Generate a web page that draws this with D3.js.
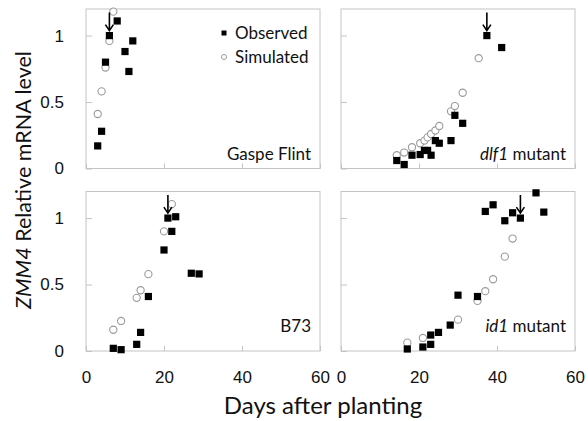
<!DOCTYPE html>
<html>
<head>
<meta charset="utf-8">
<script src="https://cdn.jsdelivr.net/npm/d3@7"></script>
<style>
  body { margin: 0; background: #fff; }
  svg { font-family: Lato, "Open Sans", sans-serif; }
</style>
</head>
<body>
<div id="chart"></div>
<script>
// values (days after planting, relative mRNA level)
const gaspeObsDays = [3, 4, 5, 6, 8, 10, 11, 12];
const gaspeObsLevel = [0.17, 0.28, 0.80, 1.0, 1.11, 0.88, 0.73, 0.96];
const gaspeSimDays = [3, 4, 5, 6, 7];
const gaspeSimLevel = [0.41, 0.58, 0.76, 0.96, 1.18];

const dlf1ObsDays = [14.3, 16.2, 18.2, 20.3, 21.4, 22.2, 23.1, 24.2, 25.2, 28.2, 29.2, 31.2, 37.4, 41.2];
const dlf1ObsLevel = [0.06, 0.03, 0.10, 0.105, 0.136, 0.136, 0.10, 0.21, 0.19, 0.21, 0.40, 0.34, 1.0, 0.91];
const dlf1SimDays = [14.3, 16.2, 18.2, 20.3, 21.4, 22.2, 23.1, 24.2, 25.2, 28.2, 29.2, 31.2, 35.3];
const dlf1SimLevel = [0.10, 0.12, 0.16, 0.19, 0.21, 0.234, 0.26, 0.286, 0.32, 0.43, 0.47, 0.57, 0.83];

const b73ObsDays = [7, 9, 13, 14, 16, 20, 21, 22, 23, 27, 29];
const b73ObsLevel = [0.02, 0.01, 0.05, 0.14, 0.41, 0.76, 1.0, 0.90, 1.01, 0.585, 0.58];
const b73SimDays = [7, 9, 13, 14, 16, 20, 22];
const b73SimLevel = [0.16, 0.226, 0.40, 0.457, 0.578, 0.90, 1.105];

const id1ObsDays = [17, 21, 23, 23, 25, 28, 30, 35, 37, 39, 42, 44, 46, 50, 52];
const id1ObsLevel = [0.015, 0.03, 0.05, 0.12, 0.14, 0.195, 0.42, 0.41, 1.05, 1.10, 0.98, 1.04, 1.0, 1.19, 1.045];
const id1SimDays = [17, 21, 30, 35, 37, 39, 42, 44];
const id1SimLevel = [0.063, 0.098, 0.236, 0.377, 0.45, 0.54, 0.71, 0.846];

const xTicks = [0, 20, 40, 60];
const yTicks = [0, 0.5, 1];

const zip = (xs, ys) => xs.map((d, i) => [d, ys[i]]);

const panels = [
  { name: ['Gaspe Flint'], obs: zip(gaspeObsDays, gaspeObsLevel), sim: zip(gaspeSimDays, gaspeSimLevel), arrow: 6, arrowLevel: 1.0, col: 0, row: 0 },
  { name: ['dlf1', ' mutant'], obs: zip(dlf1ObsDays, dlf1ObsLevel), sim: zip(dlf1SimDays, dlf1SimLevel), arrow: 37.4, arrowLevel: 1.0, col: 1, row: 0 },
  { name: ['B73'], obs: zip(b73ObsDays, b73ObsLevel), sim: zip(b73SimDays, b73SimLevel), arrow: 21, arrowLevel: 1.0, col: 0, row: 1 },
  { name: ['id1', ' mutant'], obs: zip(id1ObsDays, id1ObsLevel), sim: zip(id1SimDays, id1SimLevel), arrow: 46, arrowLevel: 1.0, col: 1, row: 1 },
];

const width = 588;
const height = 421;
const panelW = 234;
const panelH = 159.5;
const panelLeft = [86, 341];
const panelTop = [9, 191.5];
const frameColor = '#c4c4c4';

const svg = d3.select('#chart')
  .append('svg')
  .attr('width', width)
  .attr('height', height);

const x = d3.scaleLinear([0, 60], [0, panelW]);
const y = d3.scaleLinear([0, 1.2], [panelH, 0]);

panels.forEach((p) => {
  const g = svg.append('g')
    .attr('transform', `translate(${panelLeft[p.col]},${panelTop[p.row]})`);

  g.append('rect')
    .attr('width', panelW)
    .attr('height', panelH)
    .attr('fill', 'none')
    .attr('stroke', frameColor);

  // inner ticks on the left and bottom edges
  const yAxis = g.append('g')
    .call(d3.axisLeft(y).tickValues(yTicks).tickSize(-6).tickPadding(p.col === 0 ? 22 : 0)
      .tickFormat(p.col === 0 ? d3.format('') : () => ''));
  yAxis.select('.domain').remove();
  yAxis.selectAll('line').attr('stroke', frameColor);
  yAxis.selectAll('text').attr('font-size', 17).attr('font-family', null).attr('fill', '#111');

  const xAxis = g.append('g')
    .attr('transform', `translate(0,${panelH})`)
    .call(d3.axisBottom(x).tickValues(xTicks).tickSize(-5).tickPadding(20)
      .tickFormat(p.row === 1 ? d3.format('') : () => ''));
  xAxis.select('.domain').remove();
  xAxis.selectAll('line').attr('stroke', frameColor);
  xAxis.selectAll('text').attr('font-size', 17).attr('font-family', null).attr('fill', '#111');

  g.append('g')
    .selectAll('circle')
    .data(p.sim)
    .join('circle')
    .attr('cx', (d) => x(d[0]))
    .attr('cy', (d) => y(d[1]))
    .attr('r', 3.6)
    .attr('fill', '#fff')
    .attr('stroke', '#9a9a9a')
    .attr('stroke-width', 1.1);

  g.append('g')
    .selectAll('rect')
    .data(p.obs)
    .join('rect')
    .attr('x', (d) => x(d[0]) - 3.6)
    .attr('y', (d) => y(d[1]) - 3.6)
    .attr('width', 7.2)
    .attr('height', 7.2)
    .attr('fill', '#000');

  // arrow marking the peak
  const ax = x(p.arrow);
  const tip = y(p.arrowLevel) - 5;
  g.append('path')
    .attr('d', `M${ax},${tip - 18}V${tip}M${ax - 4},${tip - 6}L${ax},${tip}L${ax + 4},${tip - 6}`)
    .attr('fill', 'none')
    .attr('stroke', '#000')
    .attr('stroke-width', 1.6);

  const label = g.append('text')
    .attr('x', panelW - 9)
    .attr('y', p.row === 0 ? panelH - 8.5 : panelH - 19.5)
    .attr('text-anchor', 'end')
    .attr('font-size', 17)
    .attr('fill', '#111');
  if (p.name.length > 1) {
    label.append('tspan').attr('font-style', 'italic').text(p.name[0]);
    label.append('tspan').text(p.name[1]);
  } else {
    label.text(p.name[0]);
  }
});

// legend in the first panel
const legend = svg.append('g').attr('font-size', 17).attr('fill', '#111');
legend.append('rect').attr('x', 221.5).attr('y', 30.5).attr('width', 5).attr('height', 5).attr('fill', '#000');
legend.append('circle').attr('cx', 224).attr('cy', 57).attr('r', 2.5)
  .attr('fill', '#fff').attr('stroke', '#9a9a9a').attr('stroke-width', 1);
legend.append('text').attr('x', 235).attr('y', 38.5).text('Observed');
legend.append('text').attr('x', 235).attr('y', 63).text('Simulated');

// axis titles
svg.append('text')
  .attr('x', 323)
  .attr('y', 414)
  .attr('text-anchor', 'middle')
  .attr('font-size', 24)
  .attr('fill', '#111')
  .text('Days after planting');

const yTitle = svg.append('text')
  .attr('transform', 'translate(31,180) rotate(-90)')
  .attr('text-anchor', 'middle')
  .attr('font-size', 21.5)
  .attr('fill', '#111');
yTitle.append('tspan').attr('font-style', 'italic').text('ZMM4');
yTitle.append('tspan').text(' Relative mRNA level');
</script>
</body>
</html>
